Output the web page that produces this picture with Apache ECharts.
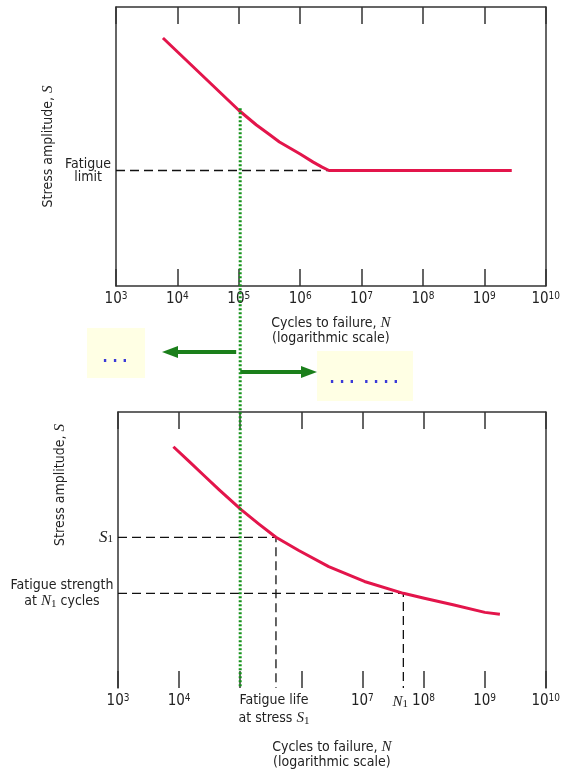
<!DOCTYPE html>
<html>
<head>
<meta charset="utf-8">
<script src="https://cdn.jsdelivr.net/npm/echarts@6/dist/echarts.min.js"></script>
<style>
html,body{margin:0;padding:0;background:#fff;}
#c{width:563px;height:771px;}
</style>
</head>
<body>
<div id="c"></div>
<script>
// ---------- data ----------
const topCycles = [5.82e3, 1e5, 1.94e5, 3.16e5, 4.6e5, 1e6, 1.63e6, 2.28e6, 2.96e6, 2.8e9];
const topStress = [88.9, 63.0, 57.7, 54.3, 51.6, 47.3, 44.4, 42.6, 41.4, 41.4];
const fatigueLimit = 41.4;
const fatigueLimitN = 2.96e6;

const botCycles = [8.07e3, 1.47e4, 2.58e4, 4.54e4, 1.035e5, 2.03e5, 3.85e5, 9.1e5, 2.81e6, 1.08e7, 4.68e7, 1.03e8, 3.17e8, 1.01e9, 1.78e9];
const botStress = [87.4, 82.0, 76.9, 71.8, 64.6, 59.4, 54.6, 49.8, 44.0, 38.6, 34.3, 32.5, 30.1, 27.4, 26.7];
const S1 = 54.6, NS1 = 3.85e5;
const N1 = 4.68e7, SN1 = 34.3;
const markerN = 1e5;
const markerStressTop = 63.0;

const xMin = 1e3, xMax = 1e10;
const bottomHiddenExponents = [5, 6];

// ---------- styles ----------
const FONT = "'Liberation Sans Narrow','DejaVu Sans Condensed','Liberation Sans',sans-serif";
const SERIF = "'Liberation Serif','DejaVu Serif',serif";
const AX = '#333';
const RED = '#e3154b';
const GREEN = '#14921a';

const supRich = {
  b: {fontFamily: FONT, fontSize: 15, color: '#222', lineHeight: 17},
  s: {fontFamily: FONT, fontSize: 10, color: '#222', verticalAlign: 'top', lineHeight: 17, padding: [0,0,7,0]}
};
function expLabel(v){ const e = Math.round(Math.log10(v)); return '{b|10}{s|' + e + '}'; }

function pairs(xs, ys){ return xs.map((x,i)=>[x, ys[i]]); }

const textRich = {
  i: {fontFamily: SERIF, fontStyle: 'italic', fontSize: 15, color: '#222'},
  I: {fontFamily: SERIF, fontStyle: 'italic', fontSize: 17, color: '#222'},
  sub: {fontFamily: SERIF, fontSize: 11, color: '#222', verticalAlign: 'bottom', padding: [7,0,0,0]},
  n: {fontFamily: FONT, fontSize: 14, color: '#222'}
};

const grids = [
  {left: 116, top: 7, width: 430, height: 279},
  {left: 118, top: 412, width: 430, height: 277}
];

function xAxisPair(gi, bottomLine, labelFmt, name, nameGap){
  return [
    {type: 'log', logBase: 10, gridIndex: gi, min: xMin, max: xMax, position: 'bottom',
     axisLine: {show: bottomLine, onZero: false, lineStyle: {color: AX, width: 1.5}},
     axisTick: {show: true, inside: true, length: 17, lineStyle: {color: AX, width: 1.5}},
     minorTick: {show: false}, splitLine: {show: false},
     axisLabel: {show: true, margin: 5, formatter: labelFmt, rich: supRich},
     name: name, nameLocation: 'middle', nameGap: nameGap,
     nameTextStyle: {fontFamily: FONT, fontSize: 14, color: '#222', lineHeight: 15, rich: textRich}},
    {type: 'log', logBase: 10, gridIndex: gi, min: xMin, max: xMax, position: 'top',
     axisLine: {show: true, onZero: false, lineStyle: {color: AX, width: 1.5}},
     axisTick: {show: true, inside: true, length: 17, lineStyle: {color: AX, width: 1.5}},
     splitLine: {show: false}, axisLabel: {show: false}}
  ];
}
function yAxisPair(gi, name){
  return [
    {type: 'value', gridIndex: gi, min: 0, max: 100, position: 'left',
     axisLine: {show: true, onZero: false, lineStyle: {color: AX, width: 1.5}},
     axisTick: {show: false}, axisLabel: {show: false}, splitLine: {show: false},
     name: name, nameLocation: 'middle', nameGap: 60, nameRotate: 90,
     nameTextStyle: {fontFamily: FONT, fontSize: 14, color: '#222', rich: textRich}},
    {type: 'value', gridIndex: gi, min: 0, max: 100, position: 'right',
     axisLine: {show: true, onZero: false, lineStyle: {color: AX, width: 1.5}},
     axisTick: {show: false}, axisLabel: {show: false}, splitLine: {show: false}}
  ];
}

const dashStyle = {color: '#111', width: 1.3, type: [9, 5]};

const option = {
  animation: false,
  backgroundColor: '#fff',
  grid: grids,
  xAxis: [
    ...xAxisPair(0, true, expLabel, '{n|Cycles to failure, }{i|N}\n{n|(logarithmic scale)}', 30),
    ...xAxisPair(1, false, v => bottomHiddenExponents.includes(Math.round(Math.log10(v))) ? '' : expLabel(v),
                 '{n|Cycles to failure, }{i|N}\n{n|(logarithmic scale)}', 52)
  ],
  yAxis: [
    ...yAxisPair(0, '{n|Stress amplitude, }{i|S}'),
    ...yAxisPair(1, '')
  ],
  series: [
    {type: 'line', xAxisIndex: 0, yAxisIndex: 0, symbol: 'none', silent: true,
     data: [[xMin, fatigueLimit], [fatigueLimitN, fatigueLimit]], lineStyle: dashStyle, z: 1},
    {type: 'line', xAxisIndex: 0, yAxisIndex: 0, symbol: 'none', silent: true,
     data: pairs(topCycles, topStress), lineStyle: {color: RED, width: 3, join: 'round'}, z: 3},
    {type: 'line', xAxisIndex: 2, yAxisIndex: 2, symbol: 'none', silent: true,
     data: [[xMin, S1], [NS1, S1], [NS1, 0]], lineStyle: dashStyle, z: 1},
    {type: 'line', xAxisIndex: 2, yAxisIndex: 2, symbol: 'none', silent: true,
     data: [[xMin, SN1], [N1, SN1], [N1, 0]], lineStyle: dashStyle, z: 1},
    {type: 'line', xAxisIndex: 2, yAxisIndex: 2, symbol: 'none', silent: true,
     data: pairs(botCycles, botStress), lineStyle: {color: RED, width: 3, join: 'round'}, z: 3}
  ]
};

const chart = echarts.init(document.getElementById('c'), null, {renderer: 'canvas'});
chart.setOption(option);

// ---------- annotations positioned from the axes ----------
const px = (ax, v) => chart.convertToPixel({xAxisIndex: ax}, v);
const py = (ax, v) => chart.convertToPixel({yAxisIndex: ax}, v);

const gx = px(2, markerN);
const gTop = py(0, markerStressTop);
const gBot = py(2, 0);
const yLimit = py(0, fatigueLimit);
const yS1 = py(2, S1), ySN1 = py(2, SN1);
const xNS1 = px(2, NS1), xN1 = px(2, N1);
const leftTop = px(0, xMin), leftBot = px(2, xMin);

const txt = (x, y, text, align, vAlign, extra) => Object.assign({
  type: 'text', x: x, y: y, z: 20,
  style: Object.assign({text: text, fill: '#222', font: '14px ' + FONT, align: align, verticalAlign: vAlign,
    lineHeight: 15, rich: textRich}, extra || {})
});

const arrowY1 = 352, arrowY2 = 372;
const leftTip = 162, rightTip = 317;

chart.setOption({
  graphic: [
    // yellow note boxes
    {type: 'rect', shape: {x: 87, y: 328, width: 58, height: 50}, style: {fill: '#ffffe4'}, z: 5},
    {type: 'rect', shape: {x: 317, y: 351, width: 96, height: 50}, style: {fill: '#ffffe4'}, z: 5},
    {type: 'text', x: 115, y: 358, z: 6, style: {text: '. . .', fill: '#3a3ad8', font: 'bold 15px ' + FONT, align: 'center', verticalAlign: 'middle'}},
    {type: 'text', x: 364, y: 379, z: 6, style: {text: '. . .  . . . .', fill: '#3a3ad8', font: 'bold 15px ' + FONT, align: 'center', verticalAlign: 'middle'}},
    // arrows
    {type: 'line', shape: {x1: gx - 4, y1: arrowY1, x2: leftTip + 12, y2: arrowY1}, style: {stroke: '#1b7f1b', lineWidth: 4}, z: 7},
    {type: 'polygon', shape: {points: [[leftTip, arrowY1], [leftTip + 16, arrowY1 - 6], [leftTip + 16, arrowY1 + 6]]}, style: {fill: '#1b7f1b'}, z: 7},
    {type: 'line', shape: {x1: gx, y1: arrowY2, x2: rightTip - 12, y2: arrowY2}, style: {stroke: '#1b7f1b', lineWidth: 4}, z: 7},
    {type: 'polygon', shape: {points: [[rightTip, arrowY2], [rightTip - 16, arrowY2 - 6], [rightTip - 16, arrowY2 + 6]]}, style: {fill: '#1b7f1b'}, z: 7},
    // green dotted marker line
    {type: 'line', shape: {x1: gx, y1: gTop - 2, x2: gx, y2: gBot}, style: {stroke: GREEN, lineWidth: 3, lineDash: [2, 2]}, z: 8},
    // top chart labels
    txt(leftTop - 28, yLimit, 'Fatigue\nlimit', 'center', 'middle', {lineHeight: 13}),
    // bottom chart labels
    {type: 'text', x: 60, y: 485, rotation: Math.PI / 2, z: 20,
     style: {text: '{n|Stress amplitude, }{i|S}', rich: textRich, align: 'center', verticalAlign: 'middle', fill: '#222'}},
    txt(leftBot - 5, yS1, '{I|S}{sub|1}', 'right', 'middle'),
    txt(leftBot - 56, ySN1, '{n|Fatigue strength}\n{n|at }{i|N}{sub|1}{n| cycles}', 'center', 'middle', {lineHeight: 16}),
    txt(xNS1 - 2, gBot + 3, '{n|Fatigue life}\n{n|at stress }{i|S}{sub|1}', 'center', 'top', {lineHeight: 18}),
    txt(xN1 - 3, gBot + 14, '{i|N}{sub|1}', 'center', 'middle')
  ]
});
</script>
</body>
</html>
